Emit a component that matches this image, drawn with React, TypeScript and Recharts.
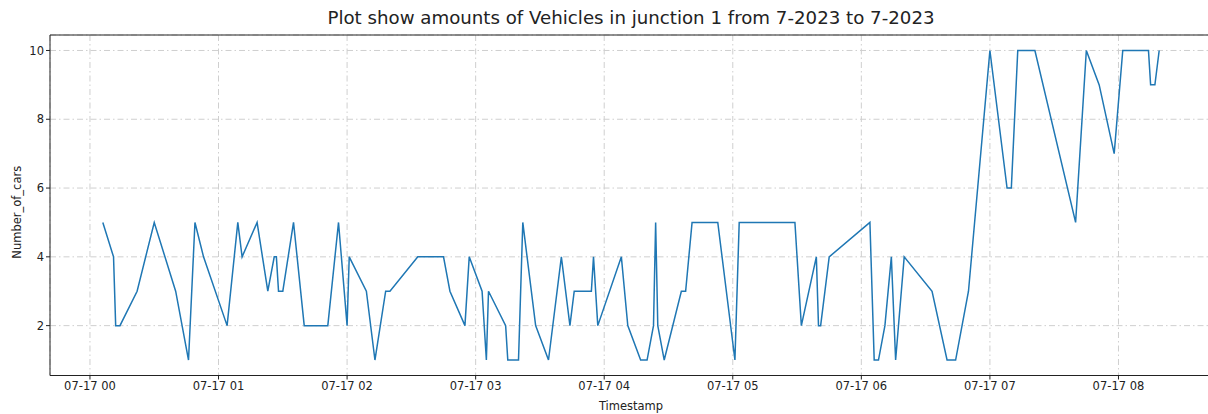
import { LineChart, Line, XAxis, YAxis, CartesianGrid, ReferenceLine } from 'recharts';

// minutes after 07-17 00:00
const timestamps = [
  6, 11, 12, 14, 22, 30, 40, 46, 49, 53, 64, 69, 71, 78, 83, 86, 87, 88, 90, 95,
  100, 111, 116, 120, 121, 129, 133, 138, 140, 153, 165, 168, 175, 177, 183, 185, 186, 194, 195, 200,
  202, 208, 214, 220, 224, 226, 234, 235, 237, 248, 251, 257, 260, 263, 264, 265, 268, 276, 278, 281,
  293, 301, 303, 329, 332, 339, 340, 341, 345, 364, 366, 368, 371, 374, 376, 380, 393, 400, 404, 410,
  420, 428, 430, 433, 441, 460, 465, 471, 478, 482, 494, 495, 497, 499,
];

const numberOfCars = [
  5, 4, 2, 2, 3, 5, 3, 1, 5, 4, 2, 5, 4, 5, 3, 4, 4, 3, 3, 5,
  2, 2, 5, 2, 4, 3, 1, 3, 3, 4, 4, 3, 2, 4, 3, 1, 3, 2, 1, 1,
  5, 2, 1, 4, 2, 3, 3, 4, 2, 4, 2, 1, 1, 2, 5, 2, 1, 3, 3, 5,
  5, 1, 5, 5, 2, 4, 2, 2, 4, 5, 1, 1, 2, 4, 1, 4, 3, 1, 1, 3,
  10, 6, 6, 10, 10, 5, 10, 9, 7, 10, 10, 9, 9, 10,
];

const hourTicks = [0, 60, 120, 180, 240, 300, 360, 420, 480];
const hourLabels = ['07-17 00', '07-17 01', '07-17 02', '07-17 03', '07-17 04', '07-17 05', '07-17 06', '07-17 07', '07-17 08'];
const yTicks = [2, 4, 6, 8, 10];

const data = timestamps.map((t, i) => ({ t, cars: numberOfCars[i] }));

const pad = (lo: number, hi: number): [number, number] => {
  const m = (hi - lo) * 0.05;
  return [lo - m, hi + m];
};
const xDomain = pad(Math.min(...timestamps), Math.max(...timestamps));
const yDomain = pad(Math.min(...numberOfCars), Math.max(...numberOfCars));

const FONT = 'DejaVu Sans, sans-serif';
const tickStyle = { fontSize: 11.5, fill: '#222', fontFamily: FONT };

const renderYLabel = (props: any) => {
  const vb = props.viewBox;
  const cy = vb.y + vb.height / 2 + 7;
  return (
    <text x={17} y={cy} transform={`rotate(-90, 17, ${cy})`} textAnchor="middle" dominantBaseline="middle"
      style={{ fontSize: 11.5, fill: '#222', fontFamily: FONT }}>
      Number_of_cars
    </text>
  );
};

export default function App() {
  return (
    <div style={{ position: 'absolute', left: 0, top: 0, width: 1208, height: 414, overflow: 'hidden', background: '#fff' }}>
      <div style={{ position: 'absolute', left: 0, width: 1262, top: 7, textAlign: 'center', fontFamily: FONT, fontSize: 18.2, color: '#222' }}>
        Plot show amounts of Vehicles in junction 1 from 7-2023 to 7-2023
      </div>
      <LineChart width={1212} height={414} data={data} margin={{ top: 35, right: 0, bottom: 0, left: 0 }}>
        <CartesianGrid stroke="#cfcfcf" strokeDasharray="6 3 1.5 3" />
        <XAxis
          dataKey="t"
          type="number"
          domain={xDomain}
          ticks={hourTicks}
          tickFormatter={(v: number) => hourLabels[hourTicks.indexOf(v)]}
          height={38.5}
          tickSize={4}
          tickLine={{ stroke: '#222' }}
          axisLine={{ stroke: '#222' }}
          tick={tickStyle}
          allowDataOverflow
          label={{ value: 'Timestamp', position: 'insideBottom', offset: 4, style: { fontSize: 11.5, fill: '#222', fontFamily: FONT } }}
        />
        <YAxis
          type="number"
          domain={yDomain}
          ticks={yTicks}
          width={50}
          tickSize={4}
          tickLine={{ stroke: '#222' }}
          axisLine={{ stroke: '#222' }}
          tick={tickStyle}
          allowDataOverflow
          label={renderYLabel}
        />
        <ReferenceLine y={yDomain[1]} stroke="#222" ifOverflow="extendDomain" />
        <Line type="linear" dataKey="cars" stroke="#1f77b4" strokeWidth={1.5} dot={false} isAnimationActive={false} />
      </LineChart>
    </div>
  );
}
